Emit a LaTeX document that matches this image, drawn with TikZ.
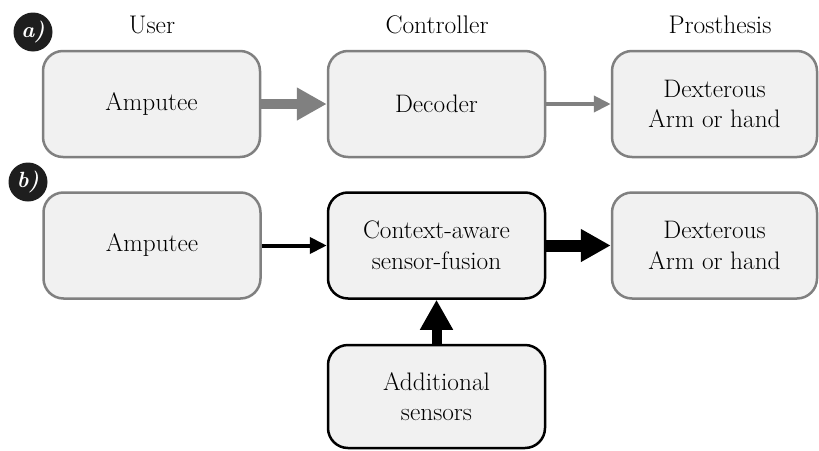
\RequirePackage{fix-cm}
\documentclass[tikz,border=0pt]{standalone}
\usetikzlibrary{arrows.meta}
\definecolor{boxfill}{HTML}{F1F1F1}
\definecolor{boxgray}{HTML}{808080}
\definecolor{badgefill}{HTML}{1E1E1E}
\begin{document}
\begin{tikzpicture}[x=1pt,y=-1pt,
  box/.style={rectangle, rounded corners=20pt, fill=boxfill, line width=2.5pt,
    minimum width=217pt, minimum height=106pt, inner sep=0pt, align=center,
    font=\fontsize{25.3}{30.5}\selectfont},
  softbox/.style={box, draw=boxgray},
  hardbox/.style={box, draw=black},
  header/.style={anchor=base, font=\fontsize{25.5}{30}\selectfont},
  badge/.style={circle, fill=badgefill, minimum size=39pt, inner sep=0pt,
    text=white, font=\fontsize{22}{22}\selectfont\bfseries\itshape},
  bigarrow/.style={line width=10pt, -{Triangle[width=31pt,length=30pt]}},
  smallarrow/.style={line width=4pt, -{Triangle[width=16pt,length=17pt]}}
]
\useasboundingbox (0,0) rectangle (819,450);

% column headers
\node[header] (hUser) at (152,33) {User};
\node[header] (hCtrl) at (437,33) {Controller};
\node[header] (hPros) at (720,33) {Prosthesis};

% panel badges
\node[badge] (ba) at (33,32) {a)};
\node[badge] (bb) at (28,182) {b)};

% a) conventional pipeline
\node[softbox] (a1) at (151.5,104) {Amputee};
\node[softbox] (d1) at (436.5,104) {Decoder};
\node[softbox, minimum width=205pt] (p1) at (714.5,104) {Dexterous\\Arm or hand};

\draw[bigarrow, draw=boxgray, fill=boxgray] (a1.east) -- (d1.west);
\draw[smallarrow, draw=boxgray, fill=boxgray] (d1.east) -- (p1.west);

% b) context-aware pipeline
\node[softbox] (a2) at (152,245.5) {Amputee};
\node[hardbox] (c2) at (436.5,245.5) {Context-aware\\sensor-fusion};
\node[softbox, minimum width=205pt] (p2) at (714.5,245.5) {Dexterous\\Arm or hand};
\node[hardbox, minimum height=103pt] (s2) at (436.5,396.5) {Additional\\sensors};

\draw[smallarrow, draw=black, fill=black] (a2.east) -- (c2.west);
\draw[bigarrow, line width=12pt, draw=black, fill=black] (c2.east) -- (p2.west);
\draw[bigarrow, draw=black, fill=black] (s2.north) -- (c2.south);
\end{tikzpicture}
\end{document}
